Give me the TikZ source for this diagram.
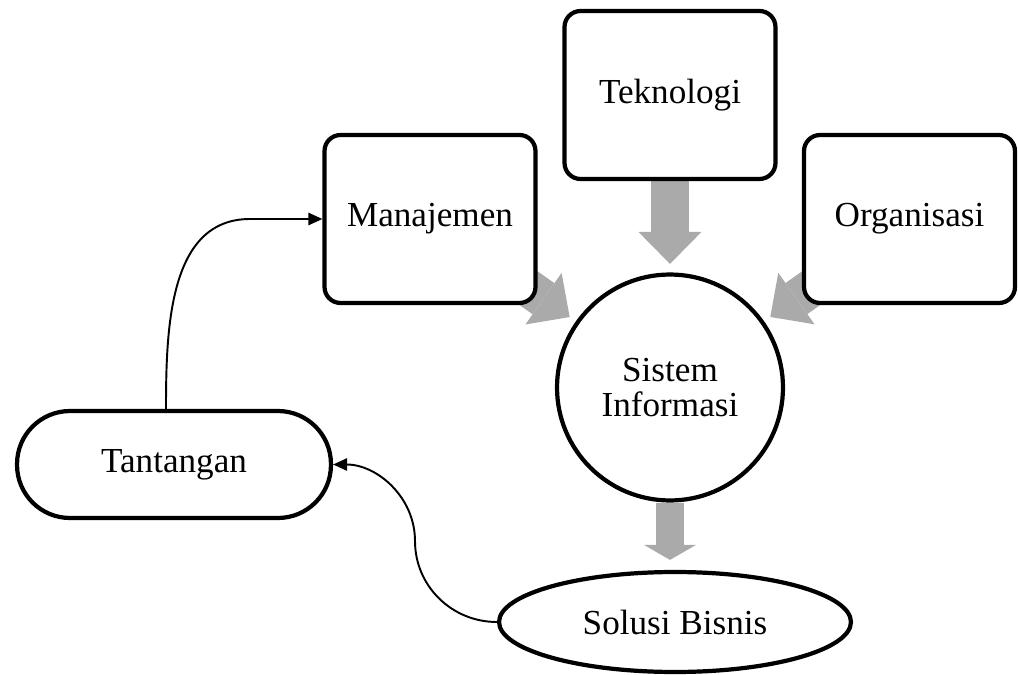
\documentclass[tikz,border=0pt]{standalone}
\usepackage{fontspec}
\setmainfont{Liberation Serif}
\usetikzlibrary{arrows.meta, shapes.geometric, backgrounds}
\definecolor{panahabu}{RGB}{170,170,170}

\begin{document}
\begin{tikzpicture}[x=0.02cm, y=0.02cm,
    teks/.style={font=\fontsize{20}{20}\selectfont, align=center, fill=white, draw, line width=2.4pt},
    kotak/.style={teks, rectangle, rounded corners=0.32cm, minimum width=4.22cm, minimum height=3.36cm},
    bulat/.style={teks, circle, minimum size=4.52cm, inner sep=0pt},
    kapsul/.style={teks, rectangle, rounded corners=1.06cm, minimum width=6.28cm, minimum height=2.14cm},
    elips/.style={teks, ellipse, minimum width=7.04cm, minimum height=2cm, inner sep=0pt},
    panahbesar/.style={draw=panahabu, line width=0.76cm, -{Triangle[length=0.64cm, width=1.26cm, line width=0pt]}},
    panahkecil/.style={draw=panahabu, line width=0.56cm, -{Triangle[length=0.3cm, width=1.04cm, line width=0pt]}},
    hubung/.style={line width=1.1pt, -{Triangle[length=8pt, width=7pt]}}]
    \useasboundingbox (0,0) rectangle (1018,674);

    \node[kotak] (tek) at (670,579) {Teknologi};
    \node[kotak] (man) at (430,455) {Manajemen};
    \node[kotak] (org) at (909.5,455) {Organisasi};
    \node[bulat] (sis) at (670,286.5) {Sistem\\Informasi};
    \node[kapsul] (tan) at (174,209.5) {Tantangan};
    \node[elips] (sol) at (675,52) {Solusi Bisnis};

    \coordinate (tekuk1) at (250,455);
    \coordinate (tekuk2) at (415,133);

    % panah abu-abu ke sistem informasi
    \begin{scope}[on background layer]
        \draw[panahbesar, shorten >=0.17cm] (tek.center) -- (sis);
        \draw[panahbesar, shorten >=0.15cm] (man.center) -- (sis);
        \draw[panahbesar, shorten >=0.15cm] (org.center) -- (sis);
        \draw[panahkecil, shorten >=0.2cm] (sis.south) -- (sis.south |- sol.north);
    \end{scope}

    \draw[hubung] ([xshift=-0.16cm]tan.north) to[out=90, in=180] (tekuk1) -- (man.west);
    \draw[hubung] (sol.west) to[out=180, in=-90] (tekuk2) to[out=90, in=0] (tan.east);
\end{tikzpicture}
\end{document}
